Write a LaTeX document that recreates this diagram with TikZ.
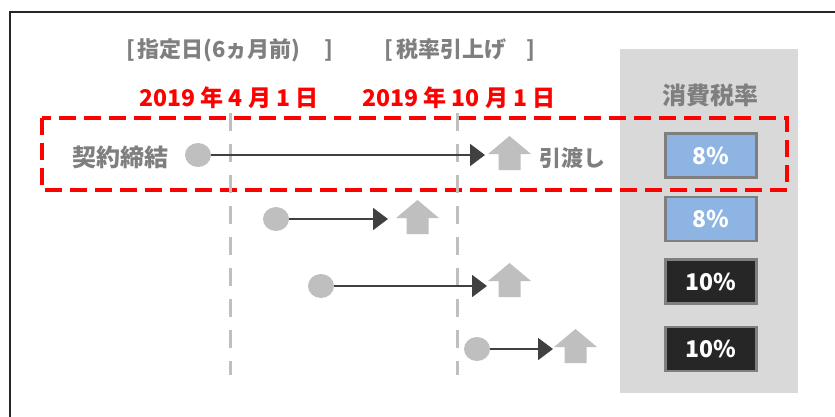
\documentclass[tikz,border=0pt]{standalone}
\usepackage{fontspec}
\newfontfamily\jp{Noto Sans CJK JP}
\setmainfont{Noto Sans CJK JP}
\usetikzlibrary{arrows.meta,shapes.geometric}
\definecolor{txtgray}{HTML}{7F7F7F}
\definecolor{lightgray}{HTML}{BFBFBF}
\definecolor{panelgray}{HTML}{D9D9D9}
\definecolor{darkline}{HTML}{404040}
\definecolor{boxblue}{HTML}{8DB4E2}
\definecolor{boxblack}{HTML}{262626}
\definecolor{pure red}{HTML}{FF0000}
\tikzset{
  title/.style={text=txtgray, font=\jp\bfseries\fontsize{22}{26}\selectfont, inner sep=0},
  datetxt/.style={text=pure red, font=\jp\bfseries\fontsize{23}{27}\selectfont, inner sep=0},
  label/.style={text=txtgray, font=\jp\bfseries\fontsize{24}{28}\selectfont, inner sep=0},
  dot/.style={ellipse, fill=lightgray, minimum width=26pt, minimum height=24pt, inner sep=0},
  conn/.style={draw=darkline, line width=2pt, -{Triangle[length=15pt,width=22pt]}},
  ratebox/.style={draw=txtgray, line width=2.2pt, minimum width=91pt, minimum height=44pt, inner sep=0, text=white, font=\bfseries\fontsize{23}{27}\selectfont},
  vdash/.style={draw=lightgray, line width=3pt, dash pattern=on 18pt off 13pt},
  pics/uparrow/.style={code={
    \fill[lightgray] (-21.5,0) -- (0,-18) -- (21.5,0) -- (11,0) -- (11,16) -- (-11,16) -- (-11,0) -- cycle;
  }}
}
\begin{document}
\begin{tikzpicture}[x=1pt,y=-1pt]
\useasboundingbox (0,0) rectangle (835,416);
\fill[white] (0,0) rectangle (835,416);
% frame
\draw[line width=2.5pt, draw=black!85] (10,420) -- (10,12) -- (840,12);
% panel
\fill[panelgray] (620,49) rectangle (798,393);
\node[label] (rate) at (710,95) {消費税率};
% titles
\node[title] (t1) at (230,50) {[\kern2pt 指定日(6ヵ月前)\hspace{24pt}]};
\node[title] (t2) at (460,50) {[\kern4pt 税率引上げ\hspace{20pt}]};
\node[datetxt] (d1) at (229,98) {2019 年 4 月 1 日};
\node[datetxt] (d2) at (459,98) {2019 年 10 月 1 日};
% red dashed frame
\draw[pure red, line width=3.5pt, dash pattern=on 17pt off 8pt] (42,118) rectangle (787,190);
% vertical dashed lines
\coordinate (v1a) at (230,113); \coordinate (v1b) at (230,375);
\coordinate (v2a) at (457,113); \coordinate (v2b) at (457,375);
\draw[vdash] (v1a) -- (v1b);
\draw[vdash] (v2a) -- (v2b);
% rate boxes
\node[ratebox, fill=boxblue] (b1) at (711,155.5) {8\%};
\node[ratebox, fill=boxblue] (b2) at (711,219) {8\%};
\node[ratebox, fill=boxblack] (b3) at (711,281.5) {10\%};
\node[ratebox, fill=boxblack] (b4) at (711,349) {10\%};
% labels
\node[label] (k) at (120,157) {契約締結};
\node[label, font=\jp\bfseries\fontsize{22}{26}\selectfont] (h) at (572,158) {引渡し};
% rows
\node[dot] (c1) at (198,155) {};
\coordinate (a1) at (485,155);
\pic at (509.5,154) {uparrow};
\draw[conn] (c1.east) -- (a1);
\node[dot] (c2) at (276,219) {};
\coordinate (a2) at (388,219);
\pic at (417.5,218) {uparrow};
\draw[conn] (c2.east) -- (a2);
\node[dot] (c3) at (321,286) {};
\coordinate (a3) at (487,286);
\pic at (509.5,281) {uparrow};
\draw[conn] (c3.east) -- (a3);
\node[dot] (c4) at (477,349) {};
\coordinate (a4) at (553,349);
\pic at (575.5,347) {uparrow};
\draw[conn] (c4.east) -- (a4);
\end{tikzpicture}
\end{document}
